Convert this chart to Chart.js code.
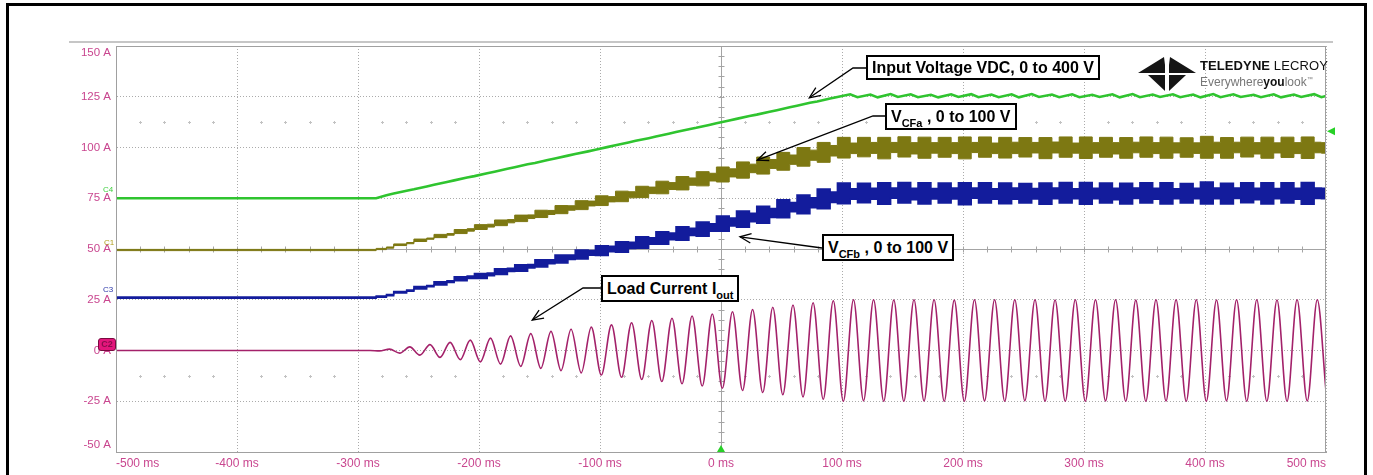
<!DOCTYPE html>
<html>
<head>
<meta charset="utf-8">
<script src="https://cdn.jsdelivr.net/npm/chart.js@4.4.0/dist/chart.umd.min.js"></script>
<style>
  html, body { margin: 0; padding: 0; background: #fff; }
  #wrap { position: relative; width: 1373px; height: 475px; overflow: hidden; font-family: Arial, "Liberation Sans", sans-serif; }
  #frame { position: absolute; left: 6px; top: 3px; width: 1355px; height: 520px; border: 3px solid #000; }
  #topline { position: absolute; left: 69px; top: 41px; width: 1264px; height: 2px; background: #c6c6c6; }
  #box { position: absolute; left: 0; top: 0; width: 1373px; height: 475px; }
  .note { position: absolute; background: #fff; border: 2px solid #000; font-weight: bold; font-size: 16px;
          line-height: 21px; padding: 0 4px; white-space: nowrap; color: #000; }
  .note.tall { line-height: 23px; }
  .note sub { font-size: 11px; vertical-align: -5px; line-height: 0; }
  .tag { position: absolute; font-size: 8px; line-height: 8px; }
  #c2 { position: absolute; left: 98px; top: 338px; width: 16px; height: 11px; background: #e3167c; border: 1px solid #7a0a40;
        border-radius: 3px; font-size: 9px; line-height: 11px; text-align: center; color: #8a0d4d; font-weight: bold; }
  #logo { position: absolute; left: 1200px; top: 59px; color: #111; }
  #logo .l1 { font-size: 13px; line-height: 14px; letter-spacing: 0.1px; }
  #logo .l2 { font-size: 12px; line-height: 13px; color: #777; }
  #logo .l2 b { color: #111; }
  #logo .l2 sup { font-size: 6px; }
</style>
</head>
<body>
<div id="wrap">
  <div id="frame"></div>
  <div id="topline"></div>
  <div id="box"><canvas id="scope"></canvas></div>

  <svg style="position:absolute;left:1136px;top:56px" width="62" height="36">
    <polygon points="2,17 28,1 29,9 29,17" fill="#151515"/>
    <polygon points="60,17 34,1 33,9 33,17" fill="#151515"/>
    <polygon points="12,19 29,19 29,35" fill="#151515"/>
    <polygon points="50,19 33,19 33,35" fill="#151515"/>
  </svg>
  <div id="logo">
    <div class="l1"><b>TELEDYNE</b> LECROY</div>
    <div class="l2">Everywhere<b>you</b>look<sup>™</sup></div>
  </div>

  <div class="note" style="left:866px;top:55px">Input Voltage VDC, 0 to 400 V</div>
  <div class="note tall" style="left:885px;top:103px">V<sub>CFa</sub> , 0 to 100 V</div>
  <div class="note tall" style="left:822px;top:234px">V<sub>CFb</sub> , 0 to 100 V</div>
  <div class="note tall" style="left:601px;top:275px">Load Current I<sub>out</sub></div>

  <div class="tag" style="left:103px;top:186px;color:#3fcf3f">C4</div>
  <div class="tag" style="left:104px;top:239px;color:#b0a020">C1</div>
  <div class="tag" style="left:103px;top:286px;color:#2a36a8">C3</div>
  <div id="c2">C2</div>
</div>

<script>
// time grid (ms) shared by C4 / C1 / C3 : start of each ripple burst and of the quieter part after it
const T = [-500, -285,
  -276.5, -270.5, -259.8, -253.8, -243.2, -237.2, -226.5, -220.5, -209.8, -203.8, -193.2, -187.2,
  -176.5, -170.5, -159.8, -153.8, -143.2, -137.2, -126.5, -120.5, -109.8, -103.8, -93.2, -87.2,
  -76.5, -70.5, -59.8, -53.8, -43.2, -37.2, -26.5, -20.5, -9.8, -3.8, 6.8, 12.8,
  23.5, 29.5, 40.2, 46.2, 56.8, 62.8, 73.5, 79.5, 90.2, 96.2,
  106.8, 112.8, 123.5, 129.5, 140.2, 146.2, 156.8, 162.8, 173.5, 179.5, 190.2, 196.2,
  206.8, 212.8, 223.5, 229.5, 240.2, 246.2, 256.8, 262.8, 273.5, 279.5, 290.2, 296.2,
  306.8, 312.8, 323.5, 329.5, 340.2, 346.2, 356.8, 362.8, 373.5, 379.5, 390.2, 396.2,
  406.8, 412.8, 423.5, 429.5, 440.2, 446.2, 456.8, 462.8, 473.5, 479.5, 490.2, 496.2, 500];

// C4 input voltage (green)
const inputV = [75, 75,
  76.5, 77.3, 78.7, 79.4, 80.8, 81.6, 83.0, 83.8, 85.2, 85.9, 87.3, 88.1,
  89.5, 90.3, 91.7, 92.4, 93.8, 94.6, 96.0, 96.8, 98.1, 98.9, 100.3, 101.1,
  102.5, 103.3, 104.6, 105.4, 106.8, 107.6, 109.0, 109.7, 111.1, 111.9, 113.3, 114.1,
  115.5, 116.2, 117.6, 118.4, 119.8, 120.6, 122.0, 122.7, 124.1, 124.9,
  126.2, 124.8, 126.1, 124.7, 126.3, 124.9, 126.2, 124.8, 126.0, 124.7, 126.2, 124.9,
  126.3, 124.8, 126.1, 124.8, 126.2, 124.7, 126.3, 124.9, 126.1, 124.8, 126.2, 124.8,
  126.0, 124.9, 126.2, 124.7, 126.3, 124.8, 126.1, 124.9, 126.2, 124.8, 126.1, 124.7,
  126.3, 124.8, 126.2, 124.9, 126.0, 124.8, 126.2, 124.7, 126.1, 124.9, 126.3, 124.8, 125.4];

// C1 V_CFa (olive) centre line
const vcfa = [49.5, 49.5,
  50.0, 50.7, 52.1, 52.9, 54.3, 55.1, 56.4, 57.2, 58.6, 59.4, 60.8, 61.5,
  62.9, 63.7, 65.1, 65.9, 67.3, 68.0, 69.4, 70.2, 71.6, 72.4, 73.8, 74.5,
  75.9, 76.7, 78.1, 78.9, 80.3, 81.0, 82.4, 83.2, 84.6, 85.4, 86.7, 87.5,
  88.9, 89.7, 91.1, 91.9, 93.2, 94.0, 95.4, 96.2, 97.6, 98.4,
  99.9, 99.6, 100.2, 99.8, 99.7, 100.0, 100.3, 99.6, 99.9, 99.8, 100.1, 99.7,
  99.8, 100.0, 100.2, 99.6, 99.9, 99.8, 100.1, 99.9, 99.7, 100.0, 100.2, 99.7,
  99.9, 99.8, 100.1, 99.6, 99.8, 100.0, 100.2, 99.7, 99.9, 99.8, 100.0, 99.7,
  100.1, 99.9, 99.8, 100.0, 100.2, 99.6, 99.9, 99.8, 100.1, 99.7, 99.9, 100.0, 99.8];

// C3 V_CFb (blue) centre line
const vcfb = [26, 26,
  26.5, 27.3, 28.7, 29.5, 30.9, 31.7, 33.1, 33.9, 35.3, 36.1, 36.7, 37.5,
  38.9, 39.7, 40.7, 41.5, 42.9, 43.7, 45.1, 45.9, 47.3, 48.1, 49.2, 50.0,
  51.0, 51.8, 53.2, 54.0, 55.4, 56.2, 57.6, 58.4, 59.8, 60.6, 62.5, 63.3,
  64.7, 65.5, 66.9, 67.7, 69.8, 70.6, 72.0, 72.8, 74.7, 75.5,
  77.4, 77.1, 77.6, 77.2, 77.3, 77.5, 77.7, 77.1, 77.4, 77.2, 77.6, 77.3,
  77.2, 77.5, 77.6, 77.1, 77.4, 77.3, 77.5, 77.2, 77.3, 77.4, 77.7, 77.2,
  77.4, 77.3, 77.6, 77.1, 77.3, 77.5, 77.6, 77.2, 77.4, 77.2, 77.5, 77.3,
  77.6, 77.4, 77.3, 77.5, 77.7, 77.1, 77.4, 77.3, 77.6, 77.2, 77.4, 77.5, 77.3];

// half height of the switching ripple band on C1 and C3 (A)
const ripple = [0.3, 0.3,
  0.3, 0.3, 0.4, 0.3, 0.6, 0.3, 0.8, 0.4, 1.0, 0.6, 1.2, 0.7,
  1.4, 0.8, 1.6, 0.9, 1.8, 1.0, 2.0, 1.1, 2.2, 1.2, 2.4, 1.3,
  2.6, 1.5, 2.8, 1.6, 3.1, 1.7, 3.3, 1.8, 3.5, 1.9, 3.7, 2.0,
  4.0, 2.1, 4.2, 2.2, 4.4, 2.3, 4.6, 2.5, 4.9, 2.6,
  5.1, 2.6, 4.8, 2.7, 5.3, 2.5, 5.0, 2.8, 5.2, 2.6, 4.9, 2.7,
  5.4, 2.5, 5.0, 2.6, 5.1, 2.8, 4.8, 2.6, 5.2, 2.7, 5.0, 2.5,
  5.3, 2.6, 4.9, 2.8, 5.1, 2.6, 5.0, 2.7, 5.2, 2.5, 4.8, 2.6,
  5.4, 2.7, 5.1, 2.6, 4.9, 2.8, 5.2, 2.5, 5.0, 2.7, 5.3, 2.6, 2.6];

// C2 load current (magenta): peaks and troughs of the 60 Hz wave
const iTime = [-500, -290,
  -282.2, -273.9, -265.5, -257.2, -248.9, -240.5, -232.2, -223.9, -215.5, -207.2,
  -198.9, -190.5, -182.2, -173.9, -165.5, -157.2, -148.9, -140.5, -132.2, -123.9,
  -115.5, -107.2, -98.9, -90.5, -82.2, -73.9, -65.5, -57.2, -48.9, -40.5,
  -32.2, -23.9, -15.5, -7.2, 1.1, 9.5, 17.8, 26.1, 34.5, 42.8,
  51.1, 59.5, 67.8, 76.1, 84.5, 92.8, 101.1, 109.5, 117.8, 126.1,
  134.5, 142.8, 151.1, 159.5, 167.8, 176.1, 184.5, 192.8, 201.1, 209.5,
  217.8, 226.1, 234.5, 242.8, 251.1, 259.5, 267.8, 276.1, 284.5, 292.8,
  301.1, 309.5, 317.8, 326.1, 334.5, 342.8, 351.1, 359.5, 367.8, 376.1,
  384.5, 392.8, 401.1, 409.5, 417.8, 426.1, 434.5, 442.8, 451.1, 459.5,
  467.8, 476.1, 484.5, 492.8, 500];
const iOut = [0, 0,
  -0.2, 0.7, -1.3, 1.8, -2.3, 2.9, -3.4, 4.0, -4.5, 5.1,
  -5.6, 6.1, -6.7, 7.2, -7.8, 8.3, -8.8, 9.4, -9.9, 10.5,
  -11.0, 11.5, -12.1, 12.6, -13.2, 13.7, -14.3, 14.8, -15.3, 15.9,
  -16.4, 17.0, -17.5, 18.0, -18.6, 19.1, -19.7, 20.2, -20.7, 21.3,
  -21.8, 22.4, -22.9, 23.5, -24.0, 24.5, -25, 25, -24.8, 25,
  -25, 24.9, -25, 25, -24.9, 25, -25, 24.8, -25, 25,
  -24.9, 25, -25, 25, -24.8, 25, -25, 24.9, -25, 25,
  -25, 25, -24.9, 25, -25, 24.8, -25, 25, -24.9, 25,
  -25, 25, -25, 24.9, -24.8, 25, -25, 25, -25, 24.9,
  -25, 25, -24.9, 25, -20];

const xTicks = [-500, -400, -300, -200, -100, 0, 100, 200, 300, 400, 500];
const yTicks = [-50, -25, 0, 25, 50, 75, 100, 125, 150];

// where the labels point to (ms, A) and the pixel corner of each label box
const notes = [
  { from: [[866, 68], [853, 68]], t: 73, v: 124.5 },
  { from: [[885, 116], [873, 116]], t: 30, v: 93.8 },
  { from: [[822, 248]], t: 15.7, v: 56 },
  { from: [[601, 288], [583, 288]], t: -156, v: 15 }
];

const green = '#2fc42f', olive = '#7d7812', blue = '#131c9c', magenta = '#a3216a';
const axisPink = '#c9468f';

const band = (centre, sign) => T.map((t, i) => ({ x: t, y: centre[i] + sign * ripple[i] }));

function drawArrow(ctx, pts) {
  ctx.beginPath();
  ctx.moveTo(pts[0][0], pts[0][1]);
  for (let i = 1; i < pts.length; i++) ctx.lineTo(pts[i][0], pts[i][1]);
  ctx.stroke();
  const [tx, ty] = pts[pts.length - 1];
  const [px, py] = pts[pts.length - 2];
  const ang = Math.atan2(ty - py, tx - px);
  ctx.beginPath();
  ctx.moveTo(tx - 12 * Math.cos(ang - 0.4), ty - 12 * Math.sin(ang - 0.4));
  ctx.lineTo(tx, ty);
  ctx.lineTo(tx - 12 * Math.cos(ang + 0.4), ty - 12 * Math.sin(ang + 0.4));
  ctx.stroke();
}

const scopeDecor = {
  id: 'scopeDecor',
  beforeDatasetsDraw(chart) {
    const { ctx, chartArea: a, scales: { x, y } } = chart;
    ctx.save();
    ctx.strokeStyle = '#a4a4a4';
    ctx.lineWidth = 1;
    const cy = Math.round(y.getPixelForValue(50)) + 0.5;
    const cx = Math.round(x.getPixelForValue(0)) + 0.5;
    ctx.beginPath();
    ctx.moveTo(a.left, cy); ctx.lineTo(a.right, cy);
    ctx.moveTo(cx, a.top); ctx.lineTo(cx, a.bottom);
    for (let t = -480; t < 500; t += 20) {
      const px = Math.round(x.getPixelForValue(t)) + 0.5;
      ctx.moveTo(px, cy - 3); ctx.lineTo(px, cy + 3);
    }
    for (let v = -45; v < 150; v += 5) {
      const py = Math.round(y.getPixelForValue(v)) + 0.5;
      ctx.moveTo(cx - 3, py); ctx.lineTo(cx + 3, py);
    }
    ctx.stroke();
    // faint graticule dots
    ctx.fillStyle = '#c2c2c2';
    [112.5, -12.5].forEach(v => {
      const py = Math.round(y.getPixelForValue(v));
      for (let t = -480; t < 500; t += 20) {
        if (t % 100 === 0) continue;
        const px = Math.round(x.getPixelForValue(t));
        ctx.fillRect(px - 1, py, 3, 1);
        ctx.fillRect(px, py - 1, 1, 3);
      }
    });
    ctx.restore();
  },
  afterDraw(chart) {
    const { ctx, chartArea: a, scales: { x, y } } = chart;
    ctx.save();
    ctx.strokeStyle = '#a0a0a0';
    ctx.lineWidth = 1;
    ctx.strokeRect(a.left + 0.5, a.top + 0.5, a.right - a.left - 1, a.bottom - a.top);
    // trigger markers
    ctx.fillStyle = '#27d027';
    const ty = y.getPixelForValue(108);
    ctx.beginPath();
    ctx.moveTo(a.right + 1, ty); ctx.lineTo(a.right + 9, ty - 4); ctx.lineTo(a.right + 9, ty + 4);
    ctx.fill();
    const tx = x.getPixelForValue(0);
    ctx.beginPath();
    ctx.moveTo(tx, a.bottom - 7); ctx.lineTo(tx - 4, a.bottom); ctx.lineTo(tx + 4, a.bottom);
    ctx.fill();
    // label arrows
    ctx.strokeStyle = '#000';
    ctx.lineWidth = 1.3;
    notes.forEach(n => {
      drawArrow(ctx, n.from.concat([[x.getPixelForValue(n.t), y.getPixelForValue(n.v)]]));
    });
    ctx.restore();
  }
};

const tickFont = { family: 'Arial, "Liberation Sans", sans-serif', size: 11.5 };

new Chart(document.getElementById('scope'), {
  type: 'line',
  data: {
    datasets: [
      { label: 'C2', data: iTime.map((t, i) => ({ x: t, y: iOut[i] })), borderColor: magenta, borderWidth: 1.6,
        cubicInterpolationMode: 'monotone', pointRadius: 0, fill: false },
      { label: 'C4', data: T.map((t, i) => ({ x: t, y: inputV[i] })), borderColor: green, borderWidth: 2.6,
        pointRadius: 0, fill: false },
      { label: 'C1 top', data: band(vcfa, 1), borderColor: olive, borderWidth: 1, stepped: 'after',
        pointRadius: 0, fill: false },
      { label: 'C1 bottom', data: band(vcfa, -1), borderColor: olive, borderWidth: 1, stepped: 'after',
        pointRadius: 0, fill: '-1', backgroundColor: olive },
      { label: 'C3 top', data: band(vcfb, 1), borderColor: blue, borderWidth: 1.5, stepped: 'after',
        pointRadius: 0, fill: false },
      { label: 'C3 bottom', data: band(vcfb, -1), borderColor: blue, borderWidth: 1.5, stepped: 'after',
        pointRadius: 0, fill: '-1', backgroundColor: blue }
    ]
  },
  options: {
    responsive: true,
    maintainAspectRatio: false,
    animation: false,
    events: [],
    layout: { padding: { top: 46, right: 47, left: 0, bottom: 0 } },
    plugins: { legend: { display: false }, tooltip: { enabled: false } },
    scales: {
      x: {
        type: 'linear', min: -500, max: 500,
        afterFit: s => { s.height = 23; },
        afterBuildTicks: s => { s.ticks = xTicks.map(v => ({ value: v })); },
        ticks: { align: 'inner', padding: 4, color: axisPink, font: { ...tickFont, size: 12 },
                 maxRotation: 0, autoSkip: false, callback: v => v + ' ms' },
        grid: { color: '#ababab', drawTicks: false, lineWidth: 1 },
        border: { color: '#a0a0a0', dash: [1, 2] }
      },
      y: {
        type: 'linear', min: -50, max: 150,
        afterFit: s => { s.width = 116; },
        afterBuildTicks: s => { s.ticks = yTicks.map(v => ({ value: v })); },
        ticks: { padding: 5, color: axisPink, font: tickFont, autoSkip: false,
                 callback: v => v === 150 ? ['', '150 A'] : v === -50 ? ['-50 A', ''] : v + ' A' },
        grid: { color: '#ababab', drawTicks: false, lineWidth: 1 },
        border: { color: '#a0a0a0', dash: [1, 2] }
      }
    }
  },
  plugins: [scopeDecor]
});
</script>
</body>
</html>
